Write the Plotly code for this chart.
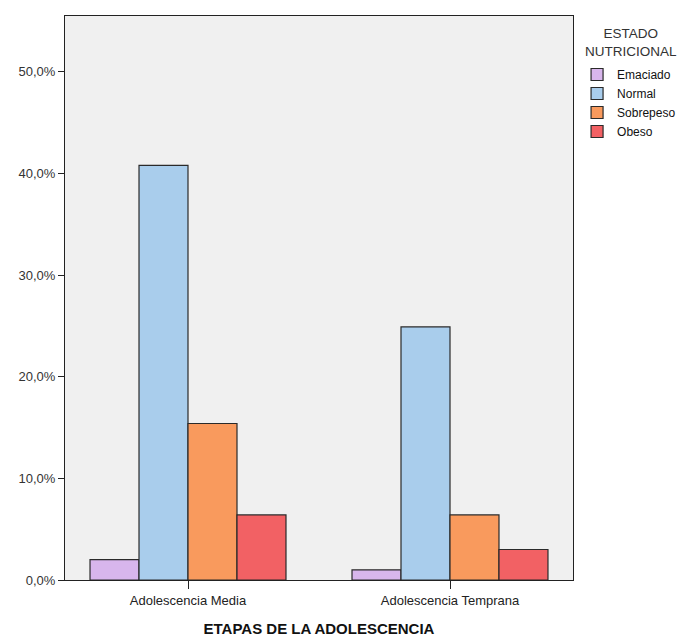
import plotly.graph_objects as go

categories = ["Adolescencia Media", "Adolescencia Temprana"]
series_names = ["Emaciado", "Normal", "Sobrepeso", "Obeso"]
emaciado = [2.0, 1.0]
normal = [40.8, 24.9]
sobrepeso = [15.4, 6.4]
obeso = [6.4, 3.0]
values = [emaciado, normal, sobrepeso, obeso]
colors = ["#D8B6EC", "#A9CDEC", "#F99A5D", "#F26164"]
y_ticks = [0, 10, 20, 30, 40, 50]
y_ticktext = [f"{v:.1f}%".replace(".", ",") for v in y_ticks]
legend_title = "ESTADO<br>NUTRICIONAL"

fig = go.Figure()
for name, vals, col in zip(series_names, values, colors):
    fig.add_trace(go.Bar(
        x=categories, y=vals, name=name,
        marker=dict(color=col, line=dict(color="#2a2a2a", width=1.2)),
    ))

font = "Liberation Sans, Arial, sans-serif"
fig.update_layout(
    width=689, height=637,
    barmode="group", bargap=0.252, bargroupgap=0,
    paper_bgcolor="white", plot_bgcolor="#F0F0F0",
    margin=dict(l=57, r=124, t=8, b=65, autoexpand=False),
    font=dict(family=font, size=12, color="#333333"),
    showlegend=True,
    legend=dict(
        x=1.008, y=0.922, xanchor="left", yanchor="top",
        font=dict(size=12, color="#111111"),
        itemwidth=30, tracegroupgap=0,
        bgcolor="rgba(0,0,0,0)",
    ),
    xaxis=dict(
        range=[-0.4695, 1.4695],
        showline=True, linecolor="#222222", linewidth=1, mirror=True,
        ticks="outside", ticklen=8, tickcolor="#222222",
        tickfont=dict(size=13, color="#222222"),
        title=dict(text="<b>ETAPAS DE LA ADOLESCENCIA</b>", standoff=16,
                   font=dict(size=15, color="#111111")),
        showgrid=False, automargin=False,
    ),
    yaxis=dict(
        range=[0, 55.5], tickvals=y_ticks, ticktext=y_ticktext,
        showline=True, linecolor="#222222", linewidth=1, mirror=True,
        ticks="outside", ticklen=6, tickcolor="#222222",
        tickfont=dict(size=13, color="#333333"),
        showgrid=False, zeroline=False, automargin=False,
    ),
    annotations=[dict(
        text=legend_title, xref="paper", yref="paper",
        x=1.114, y=0.9858, xanchor="center", yanchor="top",
        showarrow=False, align="center",
        font=dict(size=13.5, color="#333333"),
    )],
)

fig.write_html("out.html")
